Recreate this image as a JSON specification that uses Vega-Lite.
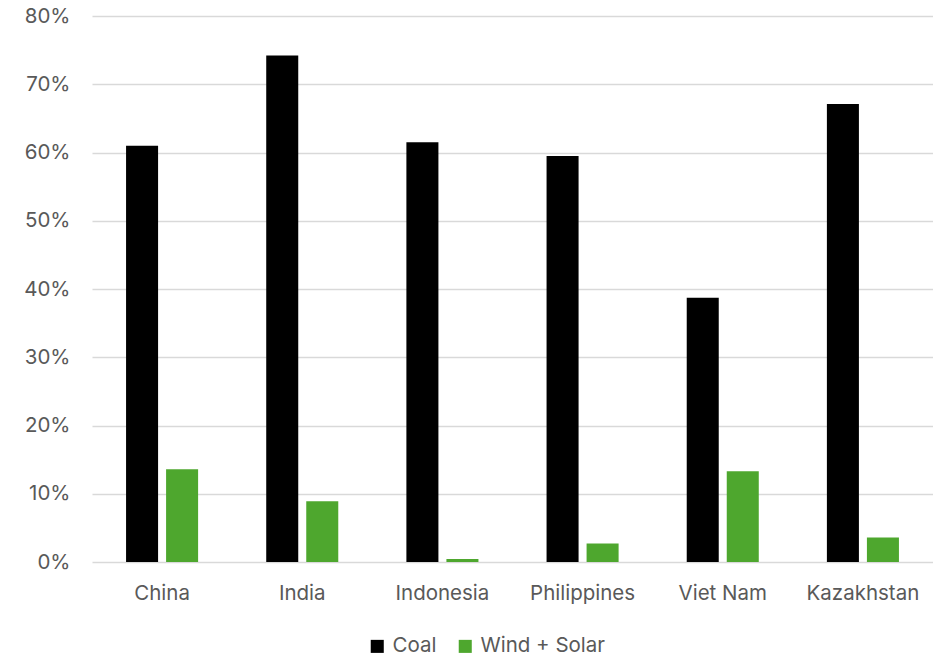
{
  "$schema": "https://vega.github.io/schema/vega-lite/v6.json",
  "width": 841,
  "height": 546,
  "autosize": {"type": "none"},
  "padding": {"left": 92, "top": 16, "right": 0, "bottom": 94},
  "background": "white",
  "config": {
    "view": {"stroke": null},
    "font": "Inter",
    "axis": {"labelFont": "Inter", "labelColor": "#595959"},
    "legend": {"labelFont": "Inter", "labelColor": "#595959"}
  },
  "data": {
    "values": [
      {"country": "China", "source": "Coal", "share": 0.610},
      {"country": "China", "source": "Wind + Solar", "share": 0.136},
      {"country": "India", "source": "Coal", "share": 0.742},
      {"country": "India", "source": "Wind + Solar", "share": 0.089},
      {"country": "Indonesia", "source": "Coal", "share": 0.615},
      {"country": "Indonesia", "source": "Wind + Solar", "share": 0.0045},
      {"country": "Philippines", "source": "Coal", "share": 0.595},
      {"country": "Philippines", "source": "Wind + Solar", "share": 0.027},
      {"country": "Viet Nam", "source": "Coal", "share": 0.387},
      {"country": "Viet Nam", "source": "Wind + Solar", "share": 0.133},
      {"country": "Kazakhstan", "source": "Coal", "share": 0.671},
      {"country": "Kazakhstan", "source": "Wind + Solar", "share": 0.036}
    ]
  },
  "mark": {"type": "bar"},
  "encoding": {
    "x": {
      "field": "country",
      "type": "nominal",
      "sort": ["China", "India", "Indonesia", "Philippines", "Viet Nam", "Kazakhstan"],
      "scale": {"paddingInner": 0.486, "paddingOuter": 0.243},
      "axis": {
        "title": null,
        "labelAngle": 0,
        "labelFontSize": 20.5,
        "labelPadding": 21,
        "domain": false,
        "ticks": false
      }
    },
    "xOffset": {
      "field": "source",
      "type": "nominal",
      "scale": {"paddingInner": 0.2, "paddingOuter": 0}
    },
    "y": {
      "field": "share",
      "type": "quantitative",
      "scale": {"domain": [0, 0.8], "nice": false, "zero": true},
      "axis": {
        "title": null,
        "format": ".0%",
        "values": [0, 0.1, 0.2, 0.3, 0.4, 0.5, 0.6, 0.7, 0.8],
        "labelFontSize": 20.5,
        "labelPadding": 22,
        "domain": false,
        "ticks": false,
        "grid": true,
        "gridColor": "#d9d9d9",
        "gridWidth": 1.5
      }
    },
    "color": {
      "field": "source",
      "type": "nominal",
      "scale": {"domain": ["Coal", "Wind + Solar"], "range": ["#000000", "#4ea72e"]},
      "legend": {
        "title": null,
        "orient": "none",
        "direction": "horizontal",
        "legendX": 275,
        "legendY": 620,
        "symbolType": "square",
        "symbolSize": 170,
        "symbolStrokeWidth": 0,
        "labelFontSize": 20.5,
        "columnPadding": 18,
        "labelOffset": 5
      }
    }
  }
}
